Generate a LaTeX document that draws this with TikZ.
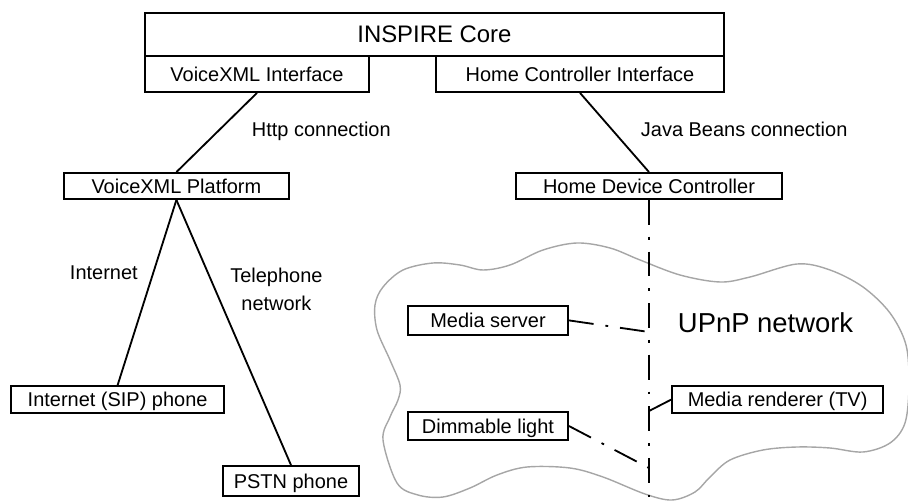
\documentclass[tikz,border=0pt]{standalone}
\usepackage{fontspec}
\setmainfont{Liberation Sans}
\tikzset{
  box/.style={
    rectangle,
    draw,
    line width=1.3pt,
    inner sep=0pt,
    align=center,
    text height=10.2pt,
    text depth=0pt,
    font=\fontsize{14.2}{17}\selectfont
  },
  corebox/.style={
    box,
    text height=12.2pt,
    font=\fontsize{17}{20}\selectfont
  },
  link/.style={line width=1.3pt},
  upnplink/.style={line width=1.3pt, dash pattern=on 17.7pt off 8.5pt on 2pt off 8.5pt},
  netcloud/.style={draw=black!35, line width=1pt},
  note/.style={font=\fontsize{14.2}{19.9}\selectfont, align=center},
  bignote/.style={font=\fontsize{19.5}{23}\selectfont}
}

\begin{document}
\begin{tikzpicture}[x=1cm,y=1cm]
\useasboundingbox (0,0) rectangle (22.7,12.5);

\draw[netcloud] plot[smooth cycle, tension=0.55] coordinates {
  (9.575,5.325) (10.075,5.75) (10.825,5.925) (11.5,5.875) (12.075,5.75)
  (12.75,5.875) (13.575,6.25) (14.425,6.425) (15.25,6.3) (16.0,6.0)
  (17.0,5.625) (18.0,5.45) (18.75,5.575) (19.925,5.9) (20.75,5.75)
  (21.575,5.325) (22.25,4.675) (22.65,3.875) (22.725,2.875) (22.625,1.925)
  (22.25,1.425) (21.575,1.2) (20.75,1.3) (19.925,1.325) (19.075,1.25)
  (18.25,1.0) (17.75,0.575) (17.375,0.2) (16.8,0.0) (16.125,0.15)
  (15.075,0.575) (14.25,0.8) (13.175,0.825) (12.425,0.625) (11.75,0.3)
  (11.075,0.075) (10.45,0.125) (9.925,0.425) (9.575,1.5) (9.75,2.075)
  (9.95,2.5) (10.0,2.875) (9.75,3.5) (9.425,4.25) (9.375,4.875)};

\node[corebox, minimum width=14.475cm, minimum height=1.075cm] (core) at (10.86,11.64) {INSPIRE Core};
\node[box, minimum width=5.6cm, minimum height=0.9cm] (vxmlif) at (6.425,10.65) {VoiceXML Interface};
\node[box, minimum width=7.2cm, minimum height=0.9cm] (homeif) at (14.5,10.65) {Home Controller Interface};
\node[box, minimum width=5.625cm, minimum height=0.65cm] (vxmlplat) at (4.41,7.85) {VoiceXML Platform};
\node[box, minimum width=6.65cm, minimum height=0.65cm] (homectrl) at (16.225,7.85) {Home Device Controller};
\node[box, minimum width=5.325cm, minimum height=0.675cm] (sipphone) at (2.94,2.51) {Internet (SIP) phone};
\node[box, minimum width=3.4cm, minimum height=0.75cm] (pstnphone) at (7.275,0.475) {PSTN phone};
\node[box, minimum width=4.0cm, minimum height=0.725cm] (mediaserver) at (12.2,4.49) {Media server};
\node[box, minimum width=4.0cm, minimum height=0.7cm] (dimlight) at (12.2,1.85) {Dimmable light};
\node[box, minimum width=5.275cm, minimum height=0.675cm] (renderer) at (19.44,2.51) {Media renderer (TV)};

\node[note, anchor=base west] (httplbl) at (6.175,9.075) {Http connection};
\node[note, anchor=base west] (beanslbl) at (15.9,9.075) {Java Beans connection};
\node[note, anchor=base west] (inetlbl) at (1.625,5.5) {Internet};
\node[note] (tellbl) at (6.91,5.275) {Telephone\\network};
\node[bignote, anchor=base west] (upnplbl) at (16.825,4.2) {UPnP network};

\coordinate (busend) at (16.225,0.075);
\coordinate (tapserver) at (16.225,4.2);
\coordinate (taprenderer) at (16.225,2.225);
\coordinate (taplight) at (16.225,0.8);

\draw[link] (vxmlif.south) -- (vxmlplat.north);
\draw[link] (homeif.south) -- (homectrl.north);
\draw[link] (vxmlplat.south) -- (sipphone.north);
\draw[link] (vxmlplat.south) -- (pstnphone.north);
\draw[upnplink] (homectrl.south) -- (busend);
\draw[upnplink] (mediaserver.east) -- (tapserver);
\draw[upnplink] (renderer.west) -- (taprenderer);
\draw[upnplink] (dimlight.east) -- (taplight);
\end{tikzpicture}
\end{document}
